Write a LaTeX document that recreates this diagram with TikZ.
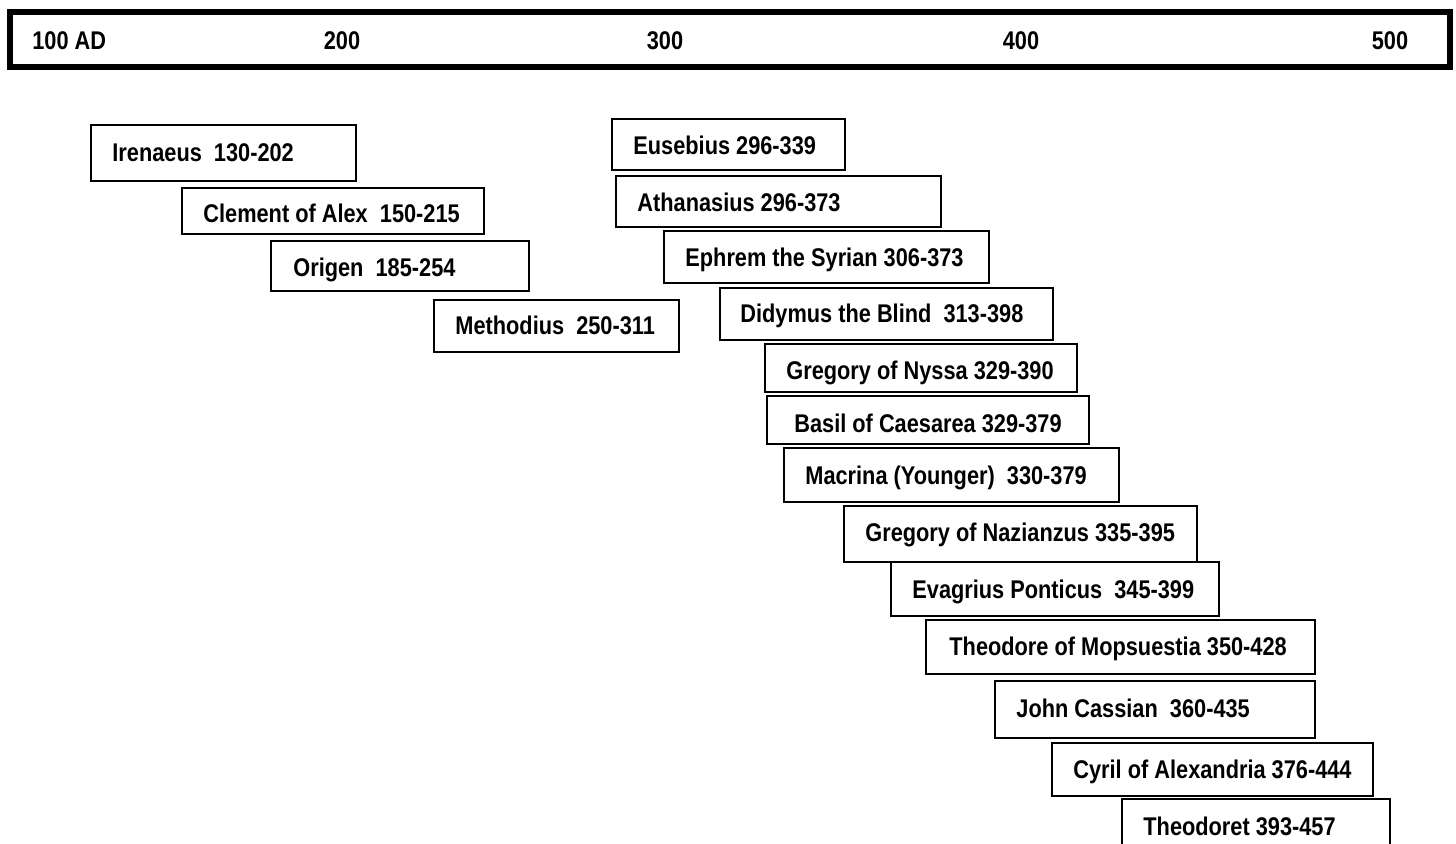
\documentclass[tikz,border=0pt]{standalone}
\usepackage{fontspec}
\setmainfont{Liberation Sans}[FakeStretch=0.85]
\begin{document}
\begin{tikzpicture}[x=0.5pt,y=0.5pt,yscale=-1,xscale=1,
  lbl/.style={inner sep=0pt,font=\bfseries\fontsize{12.8}{15}\selectfont},
  chip/.style={line width=1pt}]
\useasboundingbox (0,0) rectangle (1456,844);

%Shape: Rectangle (time scale)
\draw [line width=3pt] (10,12) rectangle (1450,67) ;

% Text Node
\draw (32,50) node [anchor=base west][lbl] (t100) {100 AD};
% Text Node
\draw (342,50) node [anchor=base][lbl] (t200) {200};
% Text Node
\draw (665,50) node [anchor=base][lbl] (t300) {300};
% Text Node
\draw (1021,50) node [anchor=base][lbl] (t400) {400};
% Text Node
\draw (1390,50) node [anchor=base][lbl] (t500) {500};

%Shape: Rectangle
\draw [chip] (91,125) rectangle (356,181) ;
%Shape: Rectangle
\draw [chip] (182,188) rectangle (484,234) ;
%Shape: Rectangle
\draw [chip] (271,241) rectangle (529,291) ;
%Shape: Rectangle
\draw [chip] (434,300) rectangle (679,352) ;
%Shape: Rectangle
\draw [chip] (612,119) rectangle (845,170) ;
%Shape: Rectangle
\draw [chip] (616,176) rectangle (941,227) ;
%Shape: Rectangle
\draw [chip] (664,231) rectangle (989,283) ;
%Shape: Rectangle
\draw [chip] (720,288) rectangle (1053,340) ;
%Shape: Rectangle
\draw [chip] (765,344) rectangle (1077,392) ;
%Shape: Rectangle
\draw [chip] (767,396) rectangle (1089,444) ;
%Shape: Rectangle
\draw [chip] (784,448) rectangle (1119,502) ;
%Shape: Rectangle
\draw [chip] (844,506) rectangle (1197,562) ;
%Shape: Rectangle
\draw [chip] (891,562) rectangle (1219,616) ;
%Shape: Rectangle
\draw [chip] (926,620) rectangle (1315,674) ;
%Shape: Rectangle
\draw [chip] (995,681) rectangle (1315,738) ;
%Shape: Rectangle
\draw [chip] (1052,743) rectangle (1373,796) ;
%Shape: Rectangle
\draw [chip] (1122,799) rectangle (1390,860) ;

% Text Node
\draw (112,162) node [anchor=base west][lbl] (iren) {Irenaeus~~130-202};
% Text Node
\draw (203,223) node [anchor=base west][lbl] (clem) {Clement of Alex~~150-215};
% Text Node
\draw (293,277) node [anchor=base west][lbl] (orig) {Origen~~185-254};
% Text Node
\draw (455,335) node [anchor=base west][lbl] (meth) {Methodius~~250-311};
% Text Node
\draw (633,155) node [anchor=base west][lbl] (euse) {Eusebius 296-339};
% Text Node
\draw (637,212) node [anchor=base west][lbl] (atha) {Athanasius 296-373};
% Text Node
\draw (685,267) node [anchor=base west][lbl] (ephr) {Ephrem the Syrian 306-373};
% Text Node
\draw (740,323) node [anchor=base west][lbl] (didy) {Didymus the Blind~~313-398};
% Text Node
\draw (786,380) node [anchor=base west][lbl] (nyss) {Gregory of Nyssa 329-390};
% Text Node
\draw (794,432) node [anchor=base west][lbl] (basi) {Basil of Caesarea 329-379};
% Text Node
\draw (805,484) node [anchor=base west][lbl] (macr) {Macrina (Younger)~~330-379};
% Text Node
\draw (865,541) node [anchor=base west][lbl] (nazi) {Gregory of Nazianzus 335-395};
% Text Node
\draw (912,598) node [anchor=base west][lbl] (evag) {Evagrius Ponticus~~345-399};
% Text Node
\draw (949,655) node [anchor=base west][lbl] (theo) {Theodore of Mopsuestia 350-428};
% Text Node
\draw (1016,717) node [anchor=base west][lbl] (cass) {John Cassian~~360-435};
% Text Node
\draw (1073,778) node [anchor=base west][lbl] (cyri) {Cyril of Alexandria 376-444};
% Text Node
\draw (1143,835) node [anchor=base west][lbl] (thdt) {Theodoret 393-457};

\end{tikzpicture}
\end{document}
